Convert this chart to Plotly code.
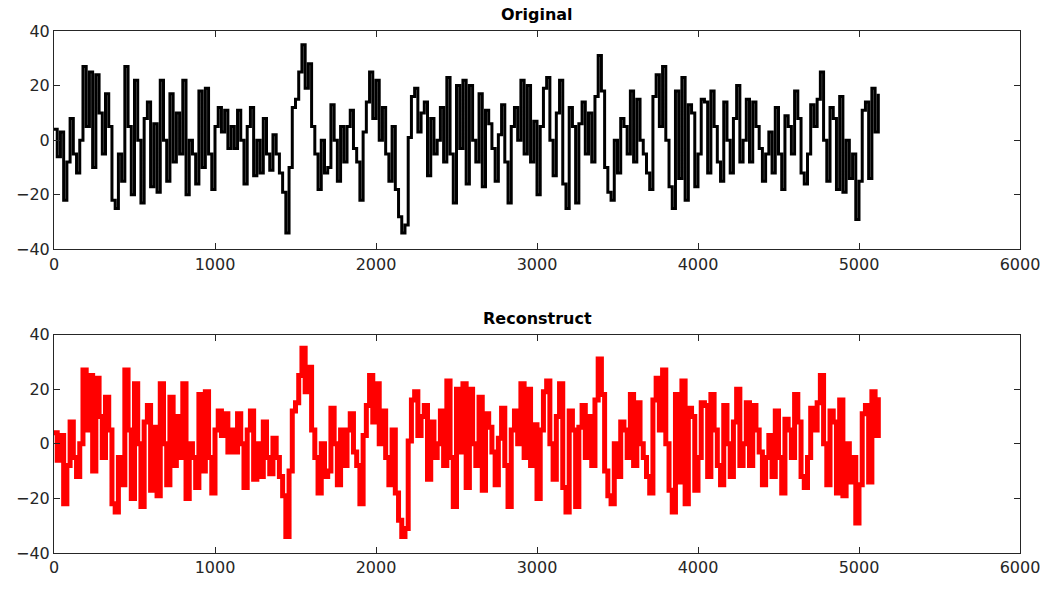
import plotly.graph_objects as go

# Signal values, one every 20 samples (sample 0 .. 5120)
sample_step = 20
original = [
    4, -6, 3, -22, -8, 8, -5, -12, 0, 27, 5, 25, -10, 24, 10, -5, 17, 5, -22, -25,
    -5, -15, 27, 5, -20, 22, 0, -23, 8, 14, -17, 6, -19, 22, 0, -15, 17, -8, 10, -5,
    22, -20, 0, -5, -16, 18, -10, 19, -5, -18, 5, 12, 3, 11, -3, 5, -3, 11, 0, -16,
    5, 12, -13, 0, -12, 8, -5, -11, 2, -5, -12, -19, -34, -10, 12, 15, 25, 35, 19, 28,
    5, -5, -18, 0, -12, -10, 13, 0, -15, 5, -8, 5, 11, -3, -8, -22, 3, 14, 25, 8,
    22, 0, 12, -5, -15, 5, -18, -28, -34, -31, 1, 16, 19, 3, 10, 14, -13, 8, -5, 0,
    12, -8, 23, -5, -23, 20, -3, 22, -16, 20, 0, -8, 17, -17, 11, 6, -3, -15, 2, 13,
    -8, -23, 5, 12, 0, 22, -5, 20, -8, 7, -20, 5, 19, 23, 0, -13, 10, 22, -16, -25,
    12, 5, -23, 6, 14, -5, 10, -8, 16, 31, 18, -10, -19, -22, 0, -12, 8, 5, -5, 18,
    -8, 15, 0, -5, -12, -18, 16, 24, 5, 27, 0, -17, -25, 18, -14, 23, -22, 13, 10, -17,
    -5, 15, 14, -12, 18, 5, -8, -15, 14, 0, -12, 8, 20, -8, 0, 15, -8, 14, 5, -3,
    -15, -5, 3, -12, 12, -5, -18, 9, 5, -5, 18, 8, -12, -16, -5, 13, 5, 15, 25, 0,
    -15, 12, 8, -18, 16, -19, 0, -14, -5, -29, -15, 11, 14, -14, 19, 3, 17,
]
reconstruct = list(original)  # the reconstruction overlaps the original in the picture

x_ticks = [0, 1000, 2000, 3000, 4000, 5000, 6000]
y_ticks = [-40, -20, 0, 20, 40]
titles = ["Original", "Reconstruct"]

samples = [i * sample_step for i in range(len(original))]

AX = "#262626"
FONT = dict(family="DejaVu Sans, Liberation Sans, Arial", size=16, color=AX)

fig = go.Figure()
fig.add_trace(go.Scatter(x=samples, y=original, mode="lines",
                         line=dict(color="black", width=3, shape="hv"),
                         xaxis="x", yaxis="y", showlegend=False))
fig.add_trace(go.Scatter(x=samples, y=reconstruct, mode="lines",
                         line=dict(color="#ff0000", width=5, shape="hv"),
                         xaxis="x2", yaxis="y2", showlegend=False))

common_x = dict(range=[0, 6000], tickvals=x_ticks, ticks="inside", ticklen=6,
                showline=True, mirror="ticks", linecolor=AX, linewidth=1,
                tickcolor=AX, showgrid=False, zeroline=False, tickfont=FONT)
common_y = dict(range=[-40, 40], tickvals=y_ticks, ticks="inside", ticklen=6,
                showline=True, mirror="ticks", linecolor=AX, linewidth=1,
                tickcolor=AX, showgrid=False, zeroline=False, tickfont=FONT)

top_h = 221 / 528
fig.update_layout(
    width=1052, height=589,
    margin=dict(l=54, r=30, t=31, b=30),
    paper_bgcolor="white", plot_bgcolor="white",
    font=FONT,
    xaxis=dict(domain=[0, 1], anchor="y", **common_x),
    yaxis=dict(domain=[1 - top_h, 1], anchor="x", **common_y),
    xaxis2=dict(domain=[0, 1], anchor="y2", **common_x),
    yaxis2=dict(domain=[0, top_h], anchor="x2", **common_y),
    annotations=[
        dict(text="<b>%s</b>" % titles[0], x=0.5, xref="paper", y=1, yref="paper",
             yanchor="bottom", yshift=5, showarrow=False,
             font=dict(family="DejaVu Sans, Arial", size=16, color="black")),
        dict(text="<b>%s</b>" % titles[1], x=0.5, xref="paper", y=top_h, yref="paper",
             yanchor="bottom", yshift=5, showarrow=False,
             font=dict(family="DejaVu Sans, Arial", size=16, color="black")),
    ],
)

fig.write_html("out.html")
